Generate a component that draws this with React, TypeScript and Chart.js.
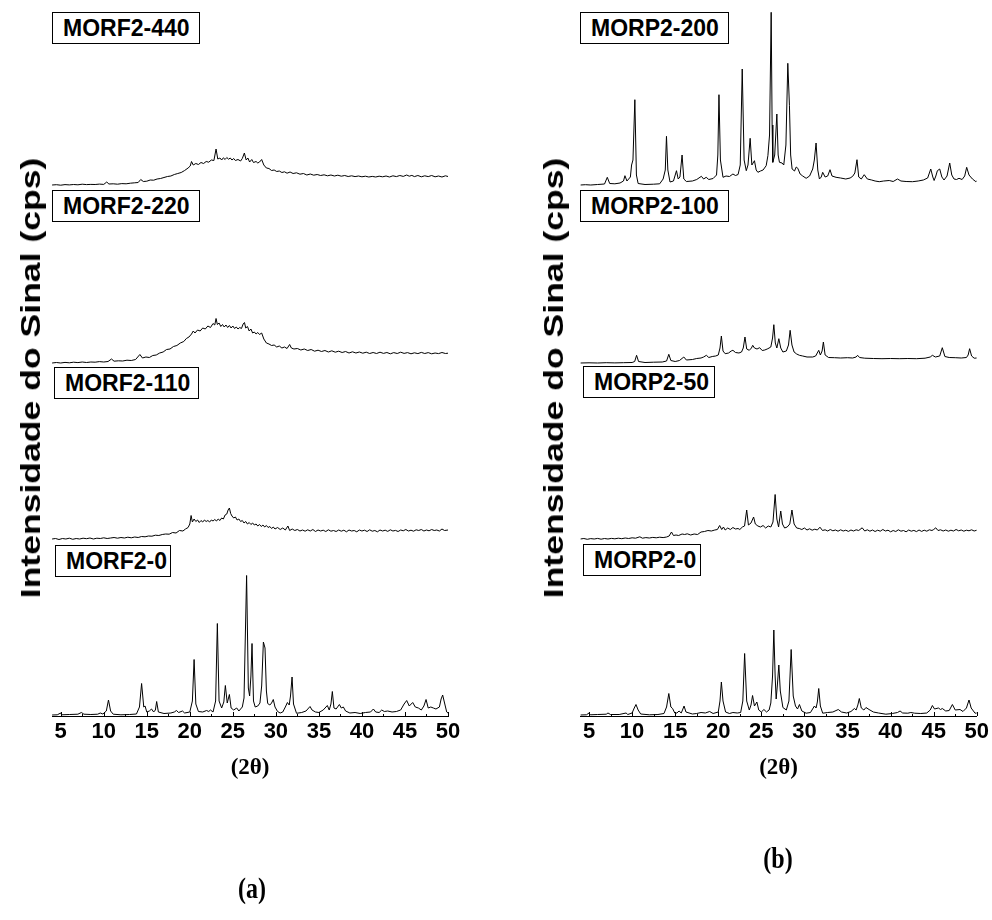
import React, { useEffect, useRef } from 'react';
import { Chart, registerables } from 'chart.js';

Chart.register(...registerables);

// ---- axis / tick values ----
const TWO_THETA_TICKS = [5, 10, 15, 20, 25, 30, 35, 40, 45, 50];
const MINOR_TICKS = [7.5, 12.5, 17.5, 22.5, 27.5, 32.5, 37.5, 42.5, 47.5];
const X_MIN = 4;
const X_MAX = 50;
const Y_MAX = 7160; // cps
const STACK_OFFSETS = [0, 1770, 3530, 5310]; // cps offset of each stacked pattern (bottom -> top)

// ---- panel (a) : MORF2 series  [2θ, cps] ----
const LABELS_A = ['MORF2-0', 'MORF2-110', 'MORF2-220', 'MORF2-440'];

const MORF2_0: [number, number][] = [
  [4.0, 10], [4.6, 12], [5.0, 30], [5.1, 12], [6.0, 15], [7.0, 18], [7.4, 35], [7.7, 18], [8.5, 15], [9.3, 18], [9.6, 30], [9.9, 20],
  [10.3, 50], [10.55, 160], [10.8, 50], [11.1, 18], [12.0, 12], [13.0, 15], [13.8, 20], [14.15, 90], [14.4, 325], [14.65, 90], [14.8, 100],
  [15.0, 40], [15.3, 50], [15.55, 70], [15.8, 40], [16.0, 60], [16.15, 145], [16.35, 40], [17.0, 25], [17.8, 30], [18.2, 40], [18.45, 55],
  [18.7, 35], [19.15, 50], [19.4, 30], [20.0, 40], [20.3, 150], [20.5, 565], [20.7, 120], [21.0, 45], [21.5, 40], [21.95, 55], [22.2, 45],
  [22.4, 60], [22.7, 40], [23.0, 150], [23.2, 925], [23.4, 150], [23.7, 80], [23.95, 140], [24.13, 305], [24.35, 130], [24.6, 215],
  [24.8, 80], [25.1, 60], [25.45, 80], [25.7, 50], [26.1, 90], [26.3, 180], [26.6, 1405], [26.8, 280], [26.95, 200], [27.1, 400],
  [27.23, 725], [27.4, 150], [27.6, 90], [27.9, 100], [28.15, 130], [28.35, 300], [28.55, 740], [28.74, 680], [28.9, 250], [29.05, 125],
  [29.3, 110], [29.5, 130], [29.7, 165], [29.9, 90], [30.2, 45], [30.5, 30], [30.8, 40], [31.1, 90], [31.34, 135], [31.55, 110],
  [31.7, 200], [31.88, 390], [32.05, 120], [32.4, 27], [33.0, 35], [33.5, 50], [33.97, 95], [34.2, 60], [34.6, 40], [35.0, 35],
  [35.5, 60], [35.98, 105], [36.2, 60], [36.4, 120], [36.56, 245], [36.75, 80], [37.0, 70], [37.38, 115], [37.6, 80], [37.84, 90],
  [38.1, 50], [38.6, 30], [39.2, 35], [39.8, 25], [40.4, 35], [41.0, 40], [41.33, 70], [41.6, 40], [42.0, 35], [42.3, 60], [42.6, 45],
  [43.0, 50], [43.5, 40], [44.0, 45], [44.5, 60], [44.9, 120], [45.2, 155], [45.5, 100], [45.9, 135], [46.2, 90], [46.56, 80],
  [46.9, 60], [47.2, 100], [47.45, 165], [47.7, 80], [48.0, 90], [48.3, 80], [48.6, 70], [49.0, 90], [49.2, 170], [49.38, 210],
  [49.6, 130], [49.85, 40], [50.0, 30],
];

const MORF2_110: [number, number][] = [
  [4.0, 0], [4.4, 5], [4.8, -5], [5.2, 5], [5.6, 0], [6.0, 8], [6.4, -3], [6.8, 5], [7.2, 0], [7.6, 8], [8.0, 3], [8.4, 10], [8.8, 0],
  [9.2, 8], [9.6, 5], [10.0, 12], [10.4, 5], [10.8, 10], [11.2, 15], [11.6, 8], [12.0, 15], [12.4, 10], [12.8, 18], [13.2, 12],
  [13.6, 20], [14.0, 15], [14.4, 25], [14.8, 22], [15.2, 30], [15.6, 28], [16.0, 38], [16.4, 35], [16.8, 45], [17.2, 50], [17.6, 48],
  [18.0, 65], [18.4, 60], [18.8, 85], [19.2, 80], [19.5, 100], [19.8, 115], [20.0, 150], [20.15, 235], [20.3, 170], [20.5, 200],
  [20.7, 175], [20.9, 190], [21.1, 165], [21.3, 185], [21.5, 170], [21.7, 190], [21.9, 175], [22.1, 185], [22.3, 170], [22.5, 190],
  [22.7, 180], [22.9, 195], [23.1, 180], [23.3, 200], [23.5, 185], [23.7, 210], [23.9, 200], [24.1, 240], [24.3, 250], [24.45, 290],
  [24.6, 310], [24.75, 255], [24.9, 230], [25.1, 210], [25.3, 220], [25.5, 190], [25.7, 200], [25.9, 175], [26.1, 185], [26.3, 160],
  [26.5, 175], [26.7, 150], [26.9, 165], [27.1, 145], [27.3, 160], [27.5, 140], [27.7, 150], [27.9, 130], [28.1, 145], [28.3, 125],
  [28.5, 140], [28.7, 120], [28.9, 135], [29.1, 115], [29.3, 125], [29.5, 105], [29.7, 120], [29.9, 100], [30.2, 115], [30.5, 95],
  [30.8, 110], [31.1, 90], [31.4, 130], [31.6, 85], [31.9, 100], [32.2, 85], [32.5, 95], [32.8, 80], [33.1, 90], [33.4, 78],
  [33.7, 92], [34.0, 80], [34.3, 95], [34.6, 75], [34.9, 90], [35.2, 80], [35.5, 88], [35.8, 75], [36.1, 92], [36.4, 78], [36.7, 85],
  [37.0, 75], [37.3, 90], [37.6, 78], [37.9, 88], [38.2, 72], [38.5, 90], [38.8, 80], [39.1, 85], [39.4, 72], [39.7, 90], [40.0, 80],
  [40.3, 88], [40.6, 75], [40.9, 92], [41.2, 78], [41.5, 85], [41.8, 72], [42.1, 90], [42.4, 80], [42.7, 88], [43.0, 76], [43.3, 92],
  [43.6, 80], [43.9, 86], [44.2, 75], [44.5, 90], [44.8, 82], [45.1, 95], [45.4, 80], [45.7, 88], [46.0, 78], [46.3, 92], [46.6, 85],
  [46.9, 95], [47.2, 80], [47.5, 90], [47.8, 82], [48.1, 95], [48.4, 85], [48.7, 90], [49.0, 80], [49.3, 100], [49.6, 85], [50.0, 90],
];

const MORF2_220: [number, number][] = [
  [4.0, 0], [4.5, 5], [5.0, 0], [5.5, 6], [6.0, 2], [6.5, 8], [7.0, 4], [7.5, 10], [8.0, 5], [8.5, 10], [9.0, 8], [9.5, 14], [10.0, 10],
  [10.5, 15], [10.9, 40], [11.2, 18], [11.7, 22], [12.2, 20], [12.7, 28], [13.2, 25], [13.7, 35], [14.2, 85], [14.5, 50], [14.9, 60],
  [15.3, 55], [15.7, 75], [16.1, 80], [16.5, 100], [16.9, 110], [17.3, 135], [17.7, 140], [18.1, 165], [18.5, 175], [18.9, 200],
  [19.3, 215], [19.6, 245], [19.9, 260], [20.2, 290], [20.4, 320], [20.6, 300], [20.9, 330], [21.2, 320], [21.5, 350], [21.8, 340],
  [22.1, 370], [22.4, 355], [22.7, 395], [22.9, 380], [23.05, 445], [23.2, 385], [23.4, 400], [23.6, 365], [23.8, 385], [24.0, 360],
  [24.2, 380], [24.4, 355], [24.6, 375], [24.8, 350], [25.0, 370], [25.2, 345], [25.4, 360], [25.6, 340], [25.8, 355], [26.0, 345],
  [26.2, 390], [26.35, 405], [26.5, 350], [26.7, 365], [26.9, 320], [27.1, 340], [27.3, 300], [27.5, 310], [27.7, 290], [27.9, 305],
  [28.1, 285], [28.35, 300], [28.6, 240], [28.9, 200], [29.2, 190], [29.5, 175], [29.8, 180], [30.1, 160], [30.4, 170], [30.7, 150],
  [31.0, 160], [31.3, 145], [31.6, 185], [31.8, 150], [32.1, 140], [32.5, 145], [32.9, 130], [33.3, 140], [33.7, 125], [34.1, 135],
  [34.5, 118], [34.9, 128], [35.3, 115], [35.7, 125], [36.1, 110], [36.5, 122], [36.9, 108], [37.3, 118], [37.7, 105], [38.1, 115],
  [38.5, 100], [38.9, 112], [39.3, 100], [39.7, 110], [40.1, 98], [40.5, 108], [40.9, 95], [41.3, 105], [41.7, 95], [42.1, 108],
  [42.5, 96], [42.9, 105], [43.3, 92], [43.7, 104], [44.1, 95], [44.5, 108], [44.9, 96], [45.3, 104], [45.7, 92], [46.1, 102],
  [46.5, 94], [46.9, 106], [47.3, 95], [47.7, 104], [48.1, 92], [48.5, 100], [48.9, 94], [49.3, 105], [49.7, 95], [50.0, 98],
];

const MORF2_440: [number, number][] = [
  [4.0, 0], [4.5, 3], [5.0, -2], [5.5, 4], [6.0, 1], [6.5, 5], [7.0, 2], [7.5, 8], [8.0, 4], [8.5, 6], [9.0, 5], [9.5, 9], [10.0, 6],
  [10.35, 30], [10.6, 10], [11.1, 12], [11.6, 8], [12.1, 14], [12.6, 12], [13.1, 18], [13.6, 22], [14.0, 25], [14.3, 55], [14.6, 35],
  [15.0, 38], [15.4, 50], [15.8, 48], [16.2, 60], [16.6, 65], [17.0, 75], [17.4, 85], [17.8, 90], [18.2, 105], [18.6, 115], [19.0, 125],
  [19.4, 145], [19.8, 170], [20.05, 190], [20.2, 235], [20.4, 200], [20.7, 215], [21.0, 205], [21.3, 225], [21.6, 215], [21.9, 235],
  [22.2, 228], [22.5, 250], [22.8, 245], [23.05, 360], [23.25, 260], [23.5, 270], [23.7, 250], [23.9, 272], [24.1, 255], [24.3, 275],
  [24.5, 258], [24.7, 270], [24.9, 250], [25.1, 265], [25.3, 245], [25.6, 255], [25.9, 240], [26.1, 265], [26.34, 320], [26.55, 250],
  [26.75, 270], [26.95, 230], [27.2, 255], [27.4, 225], [27.7, 235], [27.9, 220], [28.1, 230], [28.35, 255], [28.6, 200], [28.9, 170],
  [29.2, 165], [29.5, 145], [29.8, 150], [30.1, 135], [30.4, 140], [30.7, 125], [31.0, 132], [31.3, 118], [31.65, 130], [32.0, 115],
  [32.4, 122], [32.8, 108], [33.2, 115], [33.6, 100], [34.0, 110], [34.4, 98], [34.8, 105], [35.2, 95], [35.6, 102], [36.0, 92],
  [36.4, 100], [36.8, 90], [37.2, 98], [37.6, 88], [38.0, 95], [38.4, 85], [38.8, 92], [39.2, 84], [39.6, 90], [40.0, 82], [40.4, 88],
  [40.8, 80], [41.2, 86], [41.6, 80], [42.0, 88], [42.4, 82], [42.8, 90], [43.2, 80], [43.6, 92], [44.0, 84], [44.4, 95], [44.8, 86],
  [45.2, 100], [45.5, 88], [45.8, 96], [46.1, 84], [46.5, 95], [46.9, 82], [47.3, 92], [47.7, 84], [48.1, 95], [48.5, 82], [48.9, 90],
  [49.3, 80], [49.7, 92], [50.0, 85],
];

// ---- panel (b) : MORP2 series  [2θ, cps] ----
const LABELS_B = ['MORP2-0', 'MORP2-50', 'MORP2-100', 'MORP2-200'];

const MORP2_0: [number, number][] = [
  [4.0, 10], [4.7, 12], [5.0, 30], [5.15, 12], [6.0, 15], [7.0, 18], [7.2, 30], [7.5, 15], [8.5, 15], [9.3, 30], [9.5, 15], [10.0, 30],
  [10.25, 80], [10.45, 115], [10.7, 60], [11.0, 20], [12.0, 12], [13.0, 15], [13.7, 25], [14.0, 90], [14.26, 225], [14.5, 90],
  [14.7, 75], [14.95, 30], [15.2, 30], [15.45, 50], [15.7, 30], [15.85, 60], [16.03, 100], [16.25, 40], [17.0, 20], [17.5, 25],
  [18.0, 35], [18.5, 30], [19.0, 45], [19.4, 25], [20.0, 40], [20.2, 150], [20.36, 340], [20.55, 150], [20.85, 40], [21.3, 25],
  [21.7, 35], [22.2, 30], [22.6, 35], [22.85, 150], [23.06, 625], [23.3, 150], [23.6, 60], [23.8, 110], [23.98, 205], [24.2, 100],
  [24.48, 140], [24.7, 60], [25.0, 40], [25.3, 65], [25.6, 40], [25.9, 60], [26.1, 130], [26.3, 400], [26.45, 860], [26.6, 400],
  [26.72, 170], [26.85, 300], [27.03, 510], [27.2, 250], [27.5, 85], [27.9, 60], [28.2, 150], [28.46, 665], [28.7, 200], [28.96, 100],
  [29.2, 70], [29.42, 115], [29.7, 50], [30.2, 28], [30.7, 35], [31.16, 100], [31.35, 80], [31.5, 140], [31.66, 275], [31.85, 100],
  [32.12, 28], [32.7, 35], [33.3, 40], [33.93, 65], [34.3, 40], [34.9, 30], [35.4, 45], [35.8, 75], [36.0, 60], [36.2, 110],
  [36.37, 175], [36.6, 80], [36.9, 60], [37.14, 85], [37.5, 65], [38.0, 40], [38.6, 30], [39.45, 18], [40.2, 25], [40.8, 35],
  [41.1, 50], [41.4, 30], [42.0, 28], [42.35, 35], [42.8, 28], [43.5, 25], [44.2, 30], [44.6, 60], [44.85, 105], [45.1, 70],
  [45.55, 80], [45.8, 65], [46.0, 75], [46.4, 50], [46.8, 55], [47.17, 115], [47.5, 60], [48.06, 65], [48.4, 45], [48.8, 80],
  [49.1, 160], [49.35, 80], [49.8, 28], [50.0, 30],
];

const MORP2_50: [number, number][] = [
  [4.0, 0], [4.4, 5], [4.8, -3], [5.2, 4], [5.6, 0], [6.0, 6], [6.4, -2], [6.8, 5], [7.2, 0], [7.6, 6], [8.0, 2], [8.4, 8], [8.8, 3],
  [9.2, 10], [9.6, 5], [10.0, 12], [10.4, 8], [10.9, 22], [11.2, 8], [11.6, 14], [12.0, 10], [12.4, 16], [12.8, 12], [13.2, 18],
  [13.6, 14], [14.0, 20], [14.3, 30], [14.57, 70], [14.8, 35], [15.1, 40], [15.4, 35], [15.8, 50], [16.1, 45], [16.4, 52], [16.8, 40],
  [17.2, 50], [17.6, 45], [18.0, 70], [18.4, 75], [18.8, 85], [19.2, 80], [19.6, 90], [19.9, 95], [20.16, 135], [20.4, 95],
  [20.6, 120], [20.8, 90], [21.1, 110], [21.4, 95], [21.7, 115], [22.0, 100], [22.3, 105], [22.5, 95], [22.8, 120], [23.05, 130],
  [23.3, 290], [23.5, 140], [23.8, 160], [24.1, 220], [24.3, 150], [24.6, 130], [24.9, 120], [25.2, 135], [25.5, 110], [25.8, 130],
  [26.1, 120], [26.35, 170], [26.6, 445], [26.8, 200], [27.0, 120], [27.25, 280], [27.45, 150], [27.7, 110], [28.0, 120], [28.3, 150],
  [28.55, 290], [28.8, 150], [29.1, 110], [29.4, 105], [29.7, 95], [30.0, 110], [30.3, 90], [30.6, 102], [30.9, 88], [31.2, 98],
  [31.5, 90], [31.8, 118], [32.1, 85], [32.4, 92], [32.7, 80], [33.0, 95], [33.3, 82], [33.6, 90], [33.9, 78], [34.2, 92], [34.5, 80],
  [34.8, 88], [35.1, 76], [35.4, 90], [35.7, 80], [36.0, 92], [36.3, 85], [36.7, 112], [37.0, 80], [37.3, 92], [37.6, 78], [37.9, 90],
  [38.2, 75], [38.5, 88], [38.8, 78], [39.1, 95], [39.4, 80], [39.7, 88], [40.0, 72], [40.3, 85], [40.6, 75], [40.9, 92], [41.2, 78],
  [41.5, 85], [41.8, 72], [42.1, 90], [42.4, 78], [42.7, 86], [43.0, 74], [43.3, 90], [43.6, 76], [43.9, 88], [44.2, 78], [44.5, 92],
  [44.8, 85], [45.0, 95], [45.24, 112], [45.5, 85], [45.8, 92], [46.1, 80], [46.4, 90], [46.7, 78], [47.0, 88], [47.3, 80],
  [47.6, 95], [47.9, 82], [48.2, 90], [48.5, 78], [48.8, 88], [49.1, 82], [49.4, 92], [49.7, 80], [50.0, 88],
];

const MORP2_100: [number, number][] = [
  [4.0, 0], [5.0, 2], [6.0, 0], [7.0, 3], [8.0, 1], [9.0, 3], [10.0, 5], [10.3, 15], [10.52, 77], [10.75, 15], [11.5, 5], [12.5, 8],
  [13.5, 10], [14.0, 20], [14.26, 87], [14.5, 25], [15.0, 15], [15.5, 25], [16.0, 60], [16.3, 30], [17.0, 35], [17.5, 45], [18.0, 50],
  [18.3, 60], [18.62, 77], [18.9, 55], [19.3, 65], [19.7, 70], [20.0, 80], [20.2, 150], [20.36, 270], [20.55, 120], [20.8, 93],
  [21.2, 100], [21.5, 120], [21.7, 127], [22.0, 105], [22.4, 100], [22.7, 110], [22.9, 150], [23.1, 260], [23.3, 140], [23.6, 127],
  [23.85, 150], [24.0, 177], [24.2, 150], [24.5, 140], [24.8, 153], [25.1, 125], [25.4, 130], [25.76, 143], [26.1, 160], [26.3, 250],
  [26.45, 383], [26.62, 200], [26.8, 150], [27.03, 243], [27.25, 150], [27.5, 110], [27.9, 120], [28.15, 180], [28.34, 327],
  [28.55, 180], [28.8, 110], [29.1, 90], [29.42, 77], [29.8, 70], [30.3, 60], [30.96, 60], [31.3, 70], [31.66, 127], [31.85, 80],
  [32.05, 120], [32.2, 210], [32.4, 80], [32.8, 55], [33.5, 53], [34.2, 50], [35.0, 53], [35.6, 50], [36.0, 60], [36.17, 77],
  [36.4, 55], [37.0, 48], [38.0, 45], [39.0, 43], [40.0, 45], [41.0, 43], [42.0, 45], [43.0, 43], [44.0, 48], [44.6, 60], [44.85, 77],
  [45.2, 60], [45.7, 70], [46.0, 153], [46.3, 65], [46.8, 55], [47.5, 53], [48.2, 50], [48.8, 55], [49.0, 80], [49.17, 143],
  [49.4, 70], [49.7, 48], [50.0, 50],
];

const MORP2_200: [number, number][] = [
  [4.0, 0], [4.6, 3], [5.2, 0], [6.0, 5], [6.8, 10], [7.12, 77], [7.4, 15], [8.0, 12], [8.6, 20], [9.0, 40], [9.17, 93], [9.4, 40],
  [9.8, 80], [9.94, 200], [10.1, 250], [10.32, 853], [10.5, 100], [10.7, 15], [11.5, 5], [12.5, 8], [13.2, 12], [13.6, 60],
  [13.85, 150], [13.99, 487], [14.15, 150], [14.4, 30], [14.8, 40], [15.15, 143], [15.35, 60], [15.55, 80], [15.8, 300], [16.0, 60],
  [16.3, 35], [17.0, 40], [17.5, 55], [18.04, 87], [18.3, 60], [18.6, 77], [18.9, 55], [19.4, 65], [19.8, 100], [19.95, 300],
  [20.08, 903], [20.25, 250], [20.55, 77], [20.9, 90], [21.3, 85], [21.7, 110], [22.0, 95], [22.3, 105], [22.55, 200], [22.78, 1160],
  [23.0, 250], [23.25, 143], [23.45, 200], [23.7, 467], [23.9, 200], [24.2, 243], [24.4, 150], [24.6, 127], [24.9, 140], [25.2, 150],
  [25.56, 193], [25.76, 293], [25.95, 500], [26.14, 1727], [26.25, 600], [26.33, 227], [26.55, 300], [26.8, 710], [26.95, 300],
  [27.1, 227], [27.4, 220], [27.6, 200], [27.85, 400], [28.07, 1217], [28.26, 793], [28.4, 300], [28.57, 160], [28.85, 140],
  [29.05, 180], [29.23, 167], [29.5, 110], [29.8, 90], [30.2, 67], [30.6, 90], [30.96, 160], [31.15, 250], [31.35, 420], [31.55, 150],
  [31.74, 60], [31.95, 80], [32.12, 127], [32.4, 80], [32.7, 90], [32.97, 153], [33.2, 90], [33.67, 77], [34.2, 70], [34.8, 60],
  [35.3, 70], [35.6, 87], [35.85, 120], [36.1, 253], [36.3, 80], [36.6, 60], [36.94, 103], [37.3, 60], [37.8, 50], [38.2, 40],
  [38.68, 33], [39.2, 40], [39.84, 45], [40.3, 35], [40.8, 60], [41.2, 40], [41.8, 35], [42.54, 33], [43.2, 40], [43.8, 50], [44.3, 70],
  [44.66, 160], [44.9, 80], [45.05, 45], [45.25, 90], [45.43, 143], [45.7, 160], [45.95, 80], [46.2, 50], [46.55, 90], [46.86, 220],
  [47.1, 100], [47.36, 60], [47.65, 55], [47.94, 67], [48.3, 55], [48.6, 90], [48.83, 177], [49.1, 100], [49.5, 60], [49.9, 33],
  [50.0, 40],
];

const SERIES_A = [MORF2_0, MORF2_110, MORF2_220, MORF2_440];
const SERIES_B = [MORP2_0, MORP2_50, MORP2_100, MORP2_200];

const SANS = 'Arial, "Liberation Sans", Helvetica, sans-serif';
const SERIF = '"Times New Roman", "Liberation Serif", Times, serif';

const inwardTicks = {
  id: 'inwardTicks',
  afterDatasetsDraw(chart: any) {
    const xs = chart.scales.x;
    const { ctx, chartArea } = chart;
    ctx.save();
    ctx.strokeStyle = '#000';
    ctx.lineWidth = 1;
    const draw = (v: number, len: number) => {
      const px = Math.round(xs.getPixelForValue(v)) + 0.5;
      ctx.beginPath();
      ctx.moveTo(px, chartArea.bottom);
      ctx.lineTo(px, chartArea.bottom - len);
      ctx.stroke();
    };
    TWO_THETA_TICKS.forEach((v) => draw(v, 4));
    MINOR_TICKS.forEach((v) => draw(v, 2));
    ctx.restore();
  },
};

type PanelProps = {
  left: number;
  series: [number, number][][];
  names: string[];
  padLeft: number;
  padRight: number;
};

function Panel({ left, series, names, padLeft, padRight }: PanelProps) {
  const ref = useRef<HTMLCanvasElement | null>(null);
  useEffect(() => {
    if (!ref.current) return;
    const chart = new Chart(ref.current, {
      type: 'line',
      data: {
        datasets: series.map((s, i) => ({
          label: names[i],
          data: s.map(([x, y]) => ({ x, y: y + STACK_OFFSETS[i] })),
          borderColor: '#000',
          backgroundColor: '#000',
          borderWidth: 1,
          pointRadius: 0,
          fill: false,
          tension: 0,
        })),
      },
      options: {
        responsive: false,
        animation: false,
        devicePixelRatio: 1,
        layout: { padding: { left: padLeft, right: padRight, top: 0, bottom: 138 } },
        plugins: { legend: { display: false }, tooltip: { enabled: false } },
        scales: {
          x: {
            type: 'linear',
            min: X_MIN,
            max: X_MAX,
            afterBuildTicks: (scale: any) => {
              scale.ticks = TWO_THETA_TICKS.map((v) => ({ value: v }));
            },
            grid: { display: false, drawTicks: false, tickLength: 0 },
            border: { display: true, color: '#000', width: 1 },
            ticks: {
              color: '#000',
              autoSkip: false,
              maxRotation: 0,
              padding: 3,
              font: { family: SANS, size: 22, weight: 'bold' },
            },
            title: {
              display: true,
              text: '(2θ)',
              color: '#000',
              font: { family: SERIF, size: 23, weight: 'bold' },
              padding: { top: 6, bottom: 0 },
            },
          },
          y: { type: 'linear', display: false, min: 0, max: Y_MAX },
        },
      } as any,
      plugins: [inwardTicks],
    });
    return () => chart.destroy();
  }, []);
  return (
    <canvas
      ref={ref}
      width={496}
      height={920}
      style={{ position: 'absolute', left, top: 0, width: 496, height: 920, display: 'block' }}
    />
  );
}

function Box({ text, x, y, w }: { text: string; x: number; y: number; w: number }) {
  return (
    <div
      style={{
        position: 'absolute',
        left: x,
        top: y,
        width: w,
        height: 32,
        boxSizing: 'border-box',
        border: '1px solid #000',
        background: '#fff',
        display: 'flex',
        alignItems: 'center',
        paddingLeft: 10,
        fontFamily: SANS,
        fontWeight: 'bold',
        fontSize: 23,
        color: '#000',
        whiteSpace: 'nowrap',
        lineHeight: 1,
      }}
    >
      {text}
    </div>
  );
}

function YTitle({ cx, cy }: { cx: number; cy: number }) {
  return (
    <div
      style={{
        position: 'absolute',
        left: cx,
        top: cy,
        transform: 'translate(-50%, -50%) rotate(-90deg) scaleX(1.27)',
        fontFamily: SANS,
        fontWeight: 'bold',
        fontSize: 28,
        color: '#000',
        whiteSpace: 'nowrap',
        lineHeight: 1,
      }}
    >
      Intensidade do Sinal (cps)
    </div>
  );
}

function PanelTag({ text, cx, cy }: { text: string; cx: number; cy: number }) {
  return (
    <div
      style={{
        position: 'absolute',
        left: cx,
        top: cy,
        transform: 'translate(-50%, -50%) scaleY(1.2)',
        fontFamily: SERIF,
        fontWeight: 'bold',
        fontSize: 24,
        color: '#000',
        whiteSpace: 'nowrap',
        lineHeight: 1,
      }}
    >
      {text}
    </div>
  );
}

export default function App() {
  return (
    <div style={{ position: 'absolute', left: 0, top: 0, width: 992, height: 920, background: '#fff', overflow: 'hidden' }}>
      <Panel left={0} series={SERIES_A} names={LABELS_A} padLeft={52.1} padRight={48} />
      <Panel left={496} series={SERIES_B} names={LABELS_B} padLeft={84.4} padRight={14} />

      <Box text={LABELS_A[3]} x={52} y={12} w={148} />
      <Box text={LABELS_A[2]} x={52} y={190} w={148} />
      <Box text={LABELS_A[1]} x={54} y={367} w={145} />
      <Box text={LABELS_A[0]} x={55} y={545} w={116} />

      <Box text={LABELS_B[3]} x={580} y={12} w={149} />
      <Box text={LABELS_B[2]} x={580} y={190} w={149} />
      <Box text={LABELS_B[1]} x={583} y={366} w={132} />
      <Box text={LABELS_B[0]} x={583} y={544} w={118} />

      <YTitle cx={31} cy={378} />
      <YTitle cx={554} cy={378} />

      <PanelTag text="(a)" cx={252} cy={888} />
      <PanelTag text="(b)" cx={778} cy={858} />
    </div>
  );
}
